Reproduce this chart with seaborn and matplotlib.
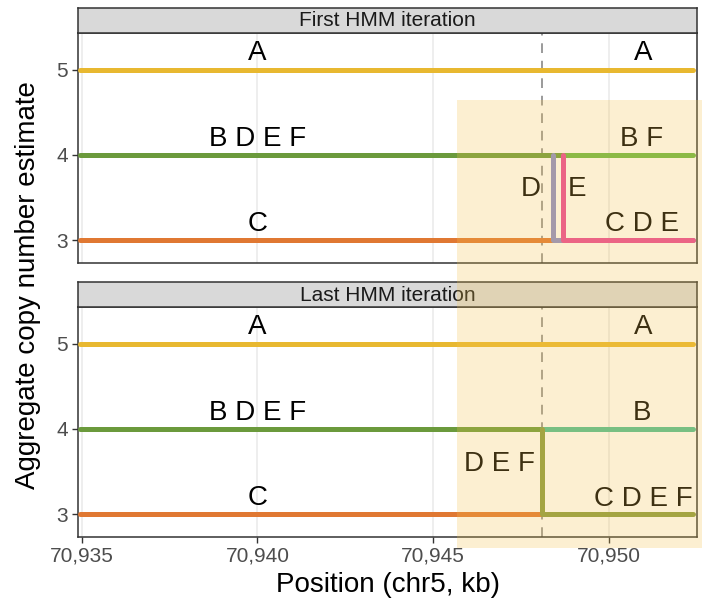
import matplotlib
matplotlib.use('Agg')
import matplotlib.pyplot as plt
import matplotlib.transforms as mtransforms
from matplotlib.patches import Rectangle
from matplotlib.ticker import FuncFormatter
import pandas as pd
import seaborn as sns

# data (positions in kb on chr5, copy number estimate)
x_start = 70934.95
x_end = 70952.4
break_first_d = 70948.42
break_first_e = 70948.70
break_last = 70948.11
highlight = (70945.68, 70952.66)

first_paths = {
    "A": ([x_start, x_end], [5, 5]),
    "B D E F": ([x_start, break_first_e], [4, 4]),
    "B F": ([break_first_e, x_end], [4, 4]),
    "C": ([x_start, break_first_d], [3, 3]),
    "D": ([break_first_d, break_first_d, x_end], [4, 3, 3]),
    "E": ([break_first_e, break_first_e, x_end], [4, 3, 3]),
}
last_paths = {
    "A": ([x_start, x_end], [5, 5]),
    "B D E F": ([x_start, break_last], [4, 4]),
    "B": ([break_last, x_end], [4, 4]),
    "C": ([x_start, break_last], [3, 3]),
    "D E F": ([break_last, break_last, x_end], [4, 3, 3]),
}
colors = {
    "A": "#E8B830", "B D E F": "#6B9A3C", "B F": "#69B645", "C": "#E07832",
    "D": "#8A8CCB", "E": "#E8459A", "B": "#4FBE96", "D E F": "#8A9A40",
}

first_labels = [("A", 70940, 5.2), ("A", 70950.98, 5.2), ("B D E F", 70940, 4.19),
                ("B F", 70950.95, 4.19), ("C", 70940, 3.19), ("D", 70947.79, 3.6),
                ("E", 70949.1, 3.6), ("C D E", 70950.95, 3.19)]
last_labels = [("A", 70940, 5.2), ("A", 70950.98, 5.2), ("B D E F", 70940, 4.19),
               ("B", 70950.95, 4.19), ("D E F", 70946.9, 3.59), ("C", 70940, 3.19),
               ("C D E F", 70950.98, 3.18)]

x_ticks = [70935, 70940, 70945, 70950]
y_ticks = [3, 4, 5]
panels = [("First HMM iteration", first_paths, first_labels),
          ("Last HMM iteration", last_paths, last_labels)]


def to_frame(paths):
    rows = []
    for name, (xs, ys) in paths.items():
        for i, (x, y) in enumerate(zip(xs, ys)):
            rows.append({"segment": name, "order": i, "x": x, "y": y})
    return pd.DataFrame(rows)


sns.set_theme(style="white")
plt.rcParams['font.family'] = ['Liberation Sans', 'DejaVu Sans']

W, H = 702, 609
fig = plt.figure(figsize=(W / 100, H / 100), dpi=100)
left, right = 78 / W, 697 / W
panel_tops = [33, 307]
panel_h = 230
strip_h = 25
dark = "#333333"

axes = []
for k, (title, paths, labels) in enumerate(panels):
    top = panel_tops[k]
    ax = fig.add_axes([left, 1 - (top + panel_h) / H, right - left, panel_h / H])
    sax = fig.add_axes([left, 1 - top / H, right - left, strip_h / H])
    sax.set_facecolor("#D9D9D9")
    sax.set_xticks([])
    sax.set_yticks([])
    for sp in sax.spines.values():
        sp.set_color(dark)
        sp.set_linewidth(1.1)
    sax.text(0.5, 0.48, title, ha="center", va="center", fontsize=15,
             color="#1A1A1A", transform=sax.transAxes)

    for xt in x_ticks:
        ax.axvline(xt, color="#EBEBEB", lw=1.2, zorder=0)
    ax.axvline(break_last, color="#9A9A9A", lw=1.4, ls=(0, (5, 4)), zorder=1)

    # one path per segment; sort=False keeps the vertical steps in order
    df = to_frame(paths)
    sns.lineplot(data=df, x="x", y="y", hue="segment", palette=colors,
                 units="segment", estimator=None, sort=False, lw=3.6,
                 legend=False, ax=ax, zorder=3)

    for txt, tx, ty in labels:
        ax.text(tx, ty, txt, ha="center", va="center", fontsize=20, color="black", zorder=5)

    ax.set_xlim(70934.89, 70952.52)
    ax.set_ylim(2.73, 5.43)
    ax.set_yticks(y_ticks)
    ax.set_xticks(x_ticks)
    ax.set_xlabel("")
    ax.set_ylabel("")
    ax.xaxis.set_major_formatter(FuncFormatter(lambda v, p: f"{int(v):,}"))
    ax.tick_params(axis="both", direction="out", length=4, width=1, color=dark,
                   labelsize=15, labelcolor="#4D4D4D", left=True, bottom=(k == 1),
                   labelbottom=(k == 1), pad=3)
    for sp in ax.spines.values():
        sp.set_color(dark)
        sp.set_linewidth(1.1)
    axes.append(ax)

fig.text(0.04, 1 - 285 / H, "Aggregate copy number estimate", rotation=90,
         ha="center", va="center", fontsize=20, color="black")
fig.text((left + right) / 2, 1 - 585 / H, "Position (chr5, kb)",
         ha="center", va="center", fontsize=20, color="black")

# highlight box spanning both panels, drawn over everything
trans = mtransforms.blended_transform_factory(axes[1].transData, fig.transFigure)
rect = Rectangle((highlight[0], 1 - 548 / H), highlight[1] - highlight[0], (548 - 100) / H,
                 transform=trans, facecolor="#F5C24A", alpha=0.25, edgecolor="none",
                 zorder=20, clip_on=False)
fig.add_artist(rect)

fig.savefig("out.png", dpi=100)
